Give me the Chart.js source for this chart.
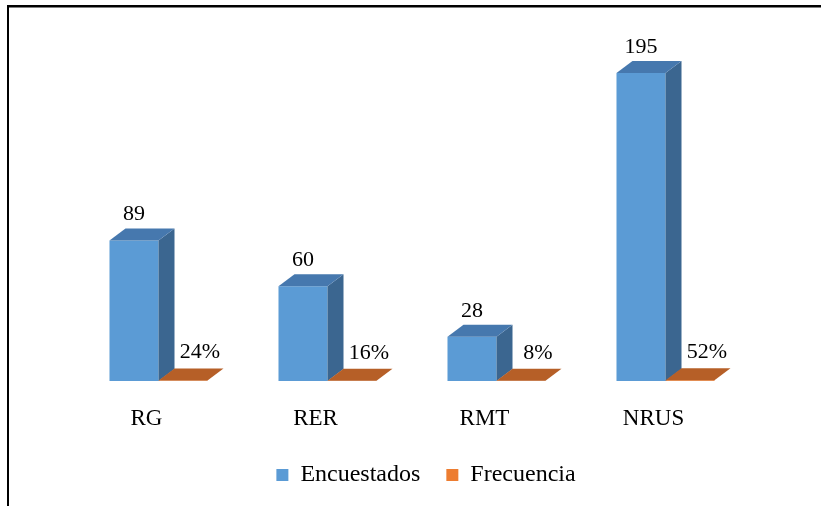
<!DOCTYPE html>
<html>
<head>
<meta charset="utf-8">
<script src="https://cdn.jsdelivr.net/npm/chart.js@4/dist/chart.umd.min.js"></script>
<style>
  body { margin: 0; background: #fff; }
  #wrap { width: 821px; height: 506px; }
</style>
</head>
<body>
<div id="wrap"><canvas id="js--grafico"></canvas></div>
<script>
const categorias = ['RG', 'RER', 'RMT', 'NRUS'];
const encuestados = [89, 60, 28, 195];
const frecuencia = [0.24, 0.16, 0.08, 0.52];

const fuente = "'Times New Roman', 'Liberation Serif', serif";
const dx = 16, dy = 12; // profundidad 3d

function poligono(ctx, pts) {
    ctx.beginPath();
    ctx.moveTo(pts[0][0], pts[0][1]);
    for (let i = 1; i < pts.length; i++) ctx.lineTo(pts[i][0], pts[i][1]);
    ctx.closePath();
    ctx.fill();
}

const barras3d = {
    id: 'barras3d',
    afterDatasetsDraw(chart) {
        const ctx = chart.ctx;
        ctx.save();
        // caras de las barras azules
        chart.getDatasetMeta(0).data.forEach(b => {
            const l = b.x - b.width / 2, r = b.x + b.width / 2;
            ctx.fillStyle = '#3B6690';
            poligono(ctx, [[r, b.y], [r + dx, b.y - dy], [r + dx, b.base - dy], [r, b.base]]);
            ctx.fillStyle = '#4678AE';
            poligono(ctx, [[l, b.y], [l + dx, b.y - dy], [r + dx, b.y - dy], [r, b.y]]);
        });
        // barras naranjas (casi planas)
        chart.getDatasetMeta(1).data.forEach(b => {
            const l = b.x - b.width / 2, r = b.x + b.width / 2;
            ctx.fillStyle = '#B65F27';
            poligono(ctx, [[l, b.y], [l + dx, b.y - dy], [r + dx, b.y - dy], [r, b.y]]);
        });
        // etiquetas
        ctx.fillStyle = '#000';
        ctx.font = '22px ' + fuente;
        ctx.textAlign = 'center';
        ctx.textBaseline = 'bottom';
        chart.getDatasetMeta(0).data.forEach((b, i) => {
            ctx.fillText(encuestados[i], b.x, b.y - dy - 3);
        });
        chart.getDatasetMeta(1).data.forEach((b, i) => {
            ctx.fillText(Math.round(frecuencia[i] * 100) + '%', b.x + 17, b.y - dy - 5);
        });
        ctx.restore();
    },
    afterDraw(chart) {
        const ctx = chart.ctx;
        ctx.save();
        ctx.fillStyle = '#000';
        ctx.fillRect(7, 5, 814, 2.5);
        ctx.fillRect(7, 5, 2, 501);
        ctx.restore();
    }
};

new Chart(document.getElementById('js--grafico'), {
    type: 'bar',
    data: {
        labels: categorias,
        datasets: [{
            label: 'Encuestados',
            data: encuestados,
            backgroundColor: '#5B9BD5',
            borderWidth: 0
        }, {
            label: 'Frecuencia',
            data: frecuencia,
            backgroundColor: '#ED7D31',
            borderWidth: 0
        }]
    },
    options: {
        responsive: true,
        maintainAspectRatio: false,
        animation: false,
        categoryPercentage: 0.58,
        barPercentage: 1,
        layout: { padding: { left: 31, right: 0, top: 65, bottom: 9 } },
        plugins: {
            tooltip: { enabled: false },
            legend: {
                position: 'bottom',
                labels: {
                    color: '#000',
                    font: { family: fuente, size: 24 },
                    boxWidth: 12,
                    boxHeight: 12,
                    padding: 26
                }
            }
        },
        scales: {
            x: {
                grid: { display: false, drawTicks: false },
                border: { display: false },
                ticks: {
                    color: '#000',
                    font: { family: fuente, size: 23 },
                    padding: 24,
                    labelOffset: -12
                },
                afterFit(s) { s.height = 56; }
            },
            y: {
                min: 0,
                max: 200,
                ticks: { display: false },
                grid: { display: false },
                border: { display: false },
                afterFit(s) { s.width = 43; }
            },
            y2: {
                position: 'right',
                min: 0,
                max: 200,
                ticks: { display: false },
                grid: { display: false },
                border: { display: false },
                afterFit(s) { s.width = 71; }
            }
        }
    },
    plugins: [barras3d]
});
</script>
</body>
</html>
